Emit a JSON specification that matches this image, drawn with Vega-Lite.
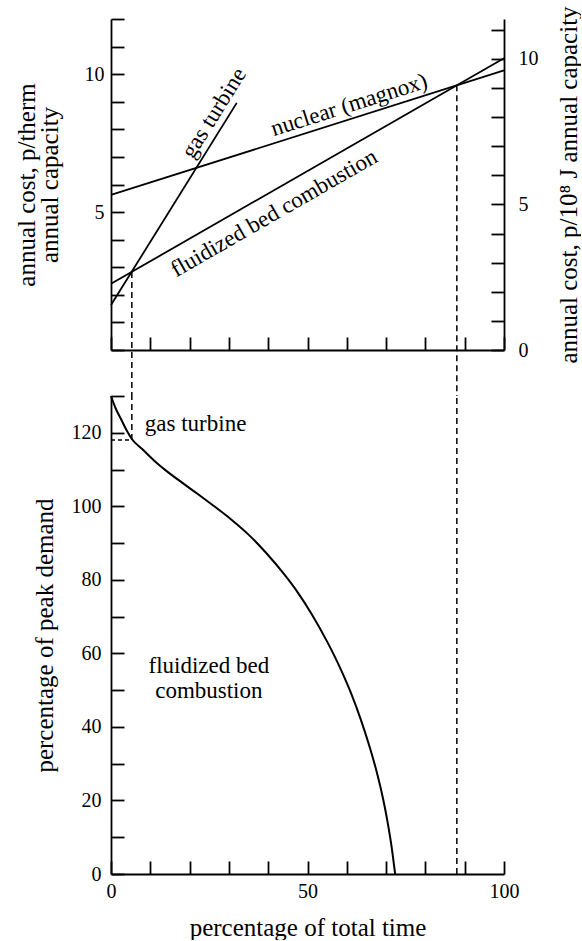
{
  "$schema": "https://vega.github.io/schema/vega-lite/v6.json",
  "background": "white",
  "padding": {"left": 14, "top": 5, "right": 0, "bottom": 0},
  "bounds": "flush",
  "spacing": 46,
  "config": {
    "view": {"stroke": null},
    "font": "Liberation Serif",
    "axis": {
      "grid": false,
      "domainColor": "black",
      "tickColor": "black",
      "labelColor": "black",
      "titleColor": "black",
      "labelFont": "Liberation Serif",
      "titleFont": "Liberation Serif",
      "labelFontSize": 20,
      "titleFontSize": 25,
      "titleFontWeight": "normal",
      "domainWidth": 1.8,
      "tickWidth": 1.8,
      "tickSize": -13,
      "labelPadding": 22,
      "labelOverlap": false,
      "labelFlush": false
    },
    "text": {"font": "Liberation Serif", "fontSize": 23, "color": "black"}
  },
  "vconcat": [
    {
      "width": 393,
      "height": 331,
      "resolve": {"scale": {"y": "independent"}, "axis": {"y": "independent"}},
      "layer": [
        {
          "encoding": {
            "x": {"field": "pct", "type": "quantitative",
              "scale": {"domain": [0, 100], "nice": false, "zero": false},
              "axis": {"values": [0,10,20,30,40,50,60,70,80,90,100], "labels": false, "title": null}},
            "y": {"field": "cost", "type": "quantitative",
              "scale": {"domain": [0, 12], "nice": false},
              "axis": {"values": [0,1,2,3,4,5,6,7,8,9,10,11,12],
                "labelExpr": "datum.value == 5 || datum.value == 10 ? datum.label : ''",
                "labelOverlap": false,
                "labelPadding": 20,
                "title": ["annual cost, p/therm", "annual capacity"],
                "titleLineHeight": 23,
                "titlePadding": 22}}
          },
          "layer": [
            {
              "data": {"values": [
                {"series": "gas turbine", "pct": 0, "cost": 1.63},
                {"series": "gas turbine", "pct": 32, "cost": 8.96},
                {"series": "nuclear (magnox)", "pct": 0, "cost": 5.62},
                {"series": "nuclear (magnox)", "pct": 100, "cost": 10.14},
                {"series": "fluidized bed combustion", "pct": 0, "cost": 2.4},
                {"series": "fluidized bed combustion", "pct": 100, "cost": 10.58}
              ]},
              "mark": {"type": "line", "color": "black", "strokeWidth": 1.8},
              "encoding": {"detail": {"field": "series"}}
            },
            {
              "data": {"values": [
                {"pct": 5.3, "cost": 2.83, "cost_end": -1.67},
                {"pct": 88, "cost": 9.6, "cost_end": -1.67}
              ]},
              "mark": {"type": "rule", "color": "black", "strokeWidth": 1.5, "strokeDash": [6, 4]},
              "encoding": {"y2": {"field": "cost_end"}}
            },
            {
              "data": {"values": [{"pct": 26.2, "cost": 8.59, "label": "gas turbine"}]},
              "mark": {"type": "text", "angle": -58, "align": "center", "baseline": "middle"},
              "encoding": {"text": {"field": "label"}}
            },
            {
              "data": {"values": [{"pct": 60.6, "cost": 8.88, "label": "nuclear (magnox)"}]},
              "mark": {"type": "text", "angle": -17.6, "align": "center", "baseline": "middle"},
              "encoding": {"text": {"field": "label"}}
            },
            {
              "data": {"values": [{"pct": 41.5, "cost": 4.96, "label": "fluidized bed combustion"}]},
              "mark": {"type": "text", "angle": -29.9, "align": "center", "baseline": "middle"},
              "encoding": {"text": {"field": "label"}}
            }
          ]
        },
        {
          "mark": {"type": "rule", "opacity": 0},
          "encoding": {
            "y": {"datum": 0, "type": "quantitative",
              "scale": {"domain": [0, 11.374], "nice": false},
              "axis": {"orient": "right",
                "values": [0,1,2,3,4,5,6,7,8,9,10,11],
                "labelExpr": "datum.value % 5 == 0 ? datum.label : ''",
                "labelOverlap": false,
                "labelPadding": 27,
                "title": "annual cost, p/10⁸ J annual capacity",
                "titleAngle": -90,
                "titleBaseline": "top",
                "titlePadding": 18}}
          }
        }
      ]
    },
    {
      "width": 393,
      "height": 478,
      "encoding": {
        "x": {"field": "pct", "type": "quantitative",
          "scale": {"domain": [0, 100], "nice": false, "zero": false},
          "axis": {"values": [0,10,20,30,40,50,60,70,80,90,100],
            "labelExpr": "datum.value % 50 == 0 ? datum.label : ''",
            "labelOverlap": false,
            "labelPadding": 20,
            "title": "percentage of total time",
            "titlePadding": 14}},
        "y": {"field": "demand", "type": "quantitative",
          "scale": {"domain": [0, 130], "nice": false},
          "axis": {"values": [0,10,20,30,40,50,60,70,80,90,100,110,120,130],
            "labelExpr": "datum.value % 20 == 0 ? datum.label : ''",
            "labelOverlap": false,
            "labelPadding": 23,
            "title": "percentage of peak demand",
            "titlePadding": 14}}
      },
      "layer": [
        {
          "data": {"values": [
            {"pct": 0, "demand": 130},
            {"pct": 1.2, "demand": 126.6},
            {"pct": 2.6, "demand": 123.6},
            {"pct": 4, "demand": 120.6},
            {"pct": 5.3, "demand": 118.3},
            {"pct": 8, "demand": 115.5},
            {"pct": 11, "demand": 112.4},
            {"pct": 14, "demand": 109.7},
            {"pct": 18, "demand": 106.5},
            {"pct": 22, "demand": 103.4},
            {"pct": 26, "demand": 100.2},
            {"pct": 30.5, "demand": 96.5},
            {"pct": 35, "demand": 92.3},
            {"pct": 39.5, "demand": 87.3},
            {"pct": 44, "demand": 81.6},
            {"pct": 47.5, "demand": 76.6},
            {"pct": 51, "demand": 70.8},
            {"pct": 55, "demand": 63.2},
            {"pct": 58.5, "demand": 55.6},
            {"pct": 61, "demand": 49.4},
            {"pct": 63.5, "demand": 42.2},
            {"pct": 65.8, "demand": 34.6},
            {"pct": 67.8, "demand": 27},
            {"pct": 69.2, "demand": 20.6},
            {"pct": 70.3, "demand": 14.6},
            {"pct": 71.4, "demand": 7.4},
            {"pct": 72.3, "demand": 0}
          ]},
          "mark": {"type": "line", "color": "black", "strokeWidth": 2, "interpolate": "monotone"}
        },
        {
          "data": {"values": [
            {"pct": 5.3, "demand": 118, "demand_end": 130},
            {"pct": 88, "demand": 0, "demand_end": 130}
          ]},
          "mark": {"type": "rule", "color": "black", "strokeWidth": 1.5, "strokeDash": [6, 4]},
          "encoding": {"y2": {"field": "demand_end"}}
        },
        {
          "data": {"values": [{"pct": 0, "pct_end": 5.3, "demand": 118}]},
          "mark": {"type": "rule", "color": "black", "strokeWidth": 1.5, "strokeDash": [4, 3]},
          "encoding": {"x2": {"field": "pct_end"}}
        },
        {
          "data": {"values": [{"pct": 8.6, "demand": 122.3, "label": "gas turbine"}]},
          "mark": {"type": "text", "align": "left", "baseline": "middle"},
          "encoding": {"text": {"field": "label"}}
        },
        {
          "data": {"values": [{"pct": 24.9, "demand": 56.5, "label": ["fluidized bed", "combustion"]}]},
          "mark": {"type": "text", "align": "center", "baseline": "middle", "lineHeight": 25},
          "encoding": {"text": {"field": "label"}}
        }
      ]
    }
  ]
}
